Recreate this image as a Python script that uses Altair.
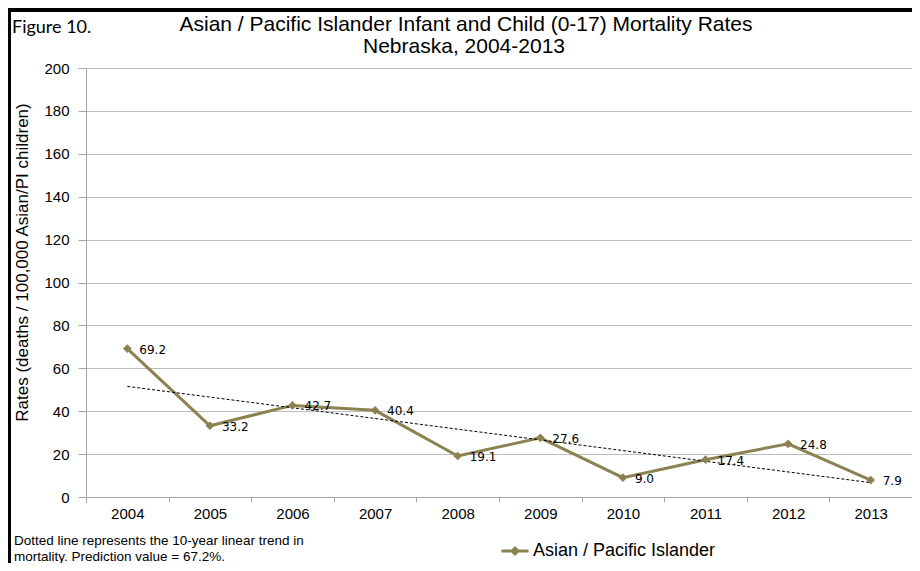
import altair as alt
import pandas as pd

# ---- data ----
years = ["2004", "2005", "2006", "2007", "2008", "2009", "2010", "2011", "2012", "2013"]
rates = [69.2, 33.2, 42.7, 40.4, 19.1, 27.6, 9.0, 17.4, 24.8, 7.9]
rate_labels = ["69.2", "33.2", "42.7", "40.4", "19.1", "27.6", "9.0", "17.4", "24.8", "7.9"]
series_name = "Asian / Pacific Islander"
y_ticks = [0, 20, 40, 60, 80, 100, 120, 140, 160, 180, 200]

figure_label = "Figure 10."
title_lines = ["Asian / Pacific Islander Infant and Child (0-17) Mortality Rates",
               "Nebraska, 2004-2013"]
y_title = "Rates (deaths / 100,000 Asian/PI children)"
footnote_lines = ["Dotted line represents the 10-year linear trend in",
                  "mortality.  Prediction value = 67.2%."]

df = pd.DataFrame({"year": years, "rate": rates, "label": rate_labels,
                   "series": [series_name] * len(years)})

# ---- layout ----
W, H = 826, 429
PAD = {"left": 78, "top": 60, "right": 0, "bottom": 66}
OLIVE = "#8C8150"
GRID = "#bdbdbd"
AXIS = "#a6a6a6"
FONT = "Liberation Sans"

x_enc = alt.X("year:O", scale=alt.Scale(domain=years, paddingInner=0, paddingOuter=0),
              axis=alt.Axis(title=None, labelAngle=0, labelFont=FONT, labelFontSize=15,
                            labelColor="black", tickBand="extent", tickSize=5,
                            tickColor=AXIS, domainColor=AXIS, labelPadding=4, grid=False))
y_enc = alt.Y("rate:Q", scale=alt.Scale(domain=[0, 200], nice=False),
              axis=alt.Axis(values=y_ticks, title=y_title, titleFont=FONT, titleFontSize=17,
                            titleFontWeight="normal", titleColor="black", titleX=-64, titleY=194,
                            titleAngle=-90, titleAlign="center", titleBaseline="middle",
                            labelFont=FONT, labelFontSize=15, labelColor="black",
                            labelPadding=9, tickSize=8, tickColor=AXIS, domainColor=AXIS,
                            grid=True, gridColor=GRID, gridWidth=1))

base = alt.Chart(df)

legend = alt.Legend(orient="none", legendX=414, legendY=468, title=None, padding=0,
                    symbolType="M-1,0L1,0M0,-0.22L0.22,0L0,0.22L-0.22,0Z",
                    symbolSize=729, symbolStrokeWidth=3, symbolStrokeColor=OLIVE,
                    symbolFillColor=OLIVE, labelFont=FONT, labelFontSize=18,
                    labelColor="black", labelOffset=3, labelLimit=400)

color_enc = alt.Color("series:N", scale=alt.Scale(domain=[series_name], range=[OLIVE]),
                      legend=legend)

line = base.mark_line(strokeWidth=3).encode(x=x_enc, y=y_enc, color=color_enc)
points = base.mark_point(shape="diamond", filled=True, size=75, opacity=1).encode(
    x="year:O", y="rate:Q", color=alt.Color("series:N", legend=None))

labels = base.mark_text(align="left", baseline="middle", dx=12, dy=1,
                        font="DejaVu Sans", fontSize=12, color="black").encode(
    x="year:O", y="rate:Q", text="label:N")

trend = base.transform_calculate(
    idx="toNumber(datum.year) - 2004"
).transform_regression("idx", "rate").transform_calculate(
    yr="toString(datum.idx + 2004)"
).mark_line(color="black", strokeWidth=1, strokeDash=[3, 2]).encode(
    x=alt.X("yr:O"), y=alt.Y("rate:Q"))

one = pd.DataFrame({"t": [figure_label]})

fig_lbl = alt.Chart(pd.DataFrame({"t": [figure_label]})).mark_text(
    align="left", baseline="alphabetic", font="Lato", fontSize=18, color="black").encode(
    x=alt.value(-74), y=alt.value(-35), text="t:N")

title1 = alt.Chart(pd.DataFrame({"t": [title_lines[0]]})).mark_text(
    align="center", baseline="alphabetic", font=FONT, fontSize=21, color="black").encode(
    x=alt.value(380), y=alt.value(-37), text="t:N")
title2 = alt.Chart(pd.DataFrame({"t": [title_lines[1]]})).mark_text(
    align="center", baseline="alphabetic", font=FONT, fontSize=21, color="black").encode(
    x=alt.value(378), y=alt.value(-15), text="t:N")

foot1 = alt.Chart(pd.DataFrame({"t": [footnote_lines[0]]})).mark_text(
    align="left", baseline="alphabetic", font=FONT, fontSize=13.5, color="black").encode(
    x=alt.value(-72), y=alt.value(477), text="t:N")
foot2 = alt.Chart(pd.DataFrame({"t": [footnote_lines[1]]})).mark_text(
    align="left", baseline="alphabetic", font=FONT, fontSize=13.5, color="black").encode(
    x=alt.value(-72), y=alt.value(493), text="t:N")

frame_top = alt.Chart(one).mark_rule(color="black", strokeWidth=4).encode(
    x=alt.value(-78), x2=alt.value(W), y=alt.value(-58))
frame_left = alt.Chart(one).mark_rule(color="black", strokeWidth=3).encode(
    x=alt.value(-76.5), y=alt.value(-60), y2=alt.value(H + PAD["bottom"]))

chart = alt.layer(
    line, trend, points, labels, fig_lbl, title1, title2, foot1, foot2, frame_top, frame_left
).properties(
    width=W, height=H, padding=PAD, autosize=alt.AutoSizeParams(type="none"),
    background="white"
).configure_view(stroke=None)

chart.save("out.html", embed_options={"renderer": "svg", "actions": False})
